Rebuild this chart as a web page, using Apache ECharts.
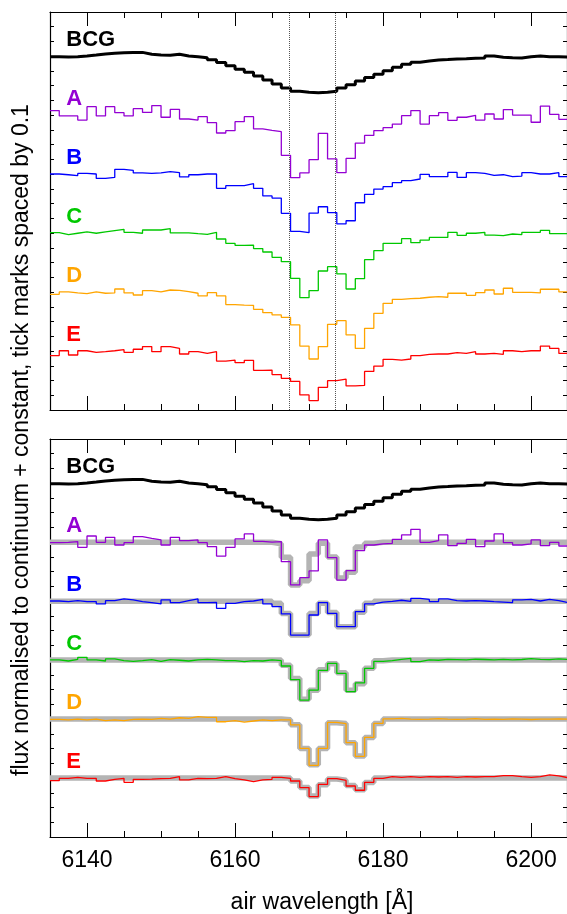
<!DOCTYPE html>
<html>
<head>
<meta charset="utf-8">
<script src="https://cdn.jsdelivr.net/npm/echarts@6/dist/echarts.min.js"></script>
<style>
html,body{margin:0;padding:0;background:#fff;}
#chart{width:567px;height:914px;}
</style>
</head>
<body>
<div id="chart"></div>
<script>
// ---- data ----
const binStart = 6135;      // first bin edge [Å]
const binWidth = 1.25;      // bin width [Å]
const xTicksMajor = [6140, 6160, 6180, 6200];
const xTicksMinor = [6135,6140,6145,6150,6155,6160,6165,6170,6175,6180,6185,6190,6195,6200];
const vLines = [6167.3, 6173.6];
const names = ['BCG', 'A', 'B', 'C', 'D', 'E'];
const offsets = [1.4, 1.0, 0.6, 0.2, -0.2, -0.6];
const colors = ['#000000', '#9400d3', '#0000ff', '#00c800', '#ffa500', '#ff0000'];

const bcg = [0.997,0.995,0.997,1.002,1.008,1.015,1.020,1.024,1.026,1.026,1.013,1.008,1.006,1.013,1.002,0.997,0.990,0.976,0.958,0.935,0.911,0.891,0.866,0.839,0.812,0.784,0.762,0.755,0.753,0.755,0.762,0.784,0.807,0.832,0.855,0.877,0.902,0.925,0.945,0.959,0.968,0.974,0.977,0.981,0.983,0.986,0.988,1.002,0.993,0.990,0.988,0.997,1.002,0.997,0.997,0.995];

const topA = [1.031,0.995,0.995,0.967,1.058,0.995,1.058,1.017,0.995,1.044,1.019,1.065,0.986,1.040,0.974,0.967,0.990,0.949,0.879,0.895,0.956,0.990,0.907,0.897,0.888,0.728,0.576,0.608,0.698,0.877,0.703,0.610,0.707,0.811,0.863,0.895,0.915,0.940,0.997,1.031,0.940,0.997,1.017,0.965,0.986,0.999,0.967,1.008,0.974,1.038,1.001,1.001,0.952,1.062,1.006,0.972];
const topB = [1.001,0.996,0.990,1.005,1.001,0.971,0.978,1.033,1.026,1.008,1.005,1.008,1.017,1.010,0.981,0.996,1.001,1.001,0.904,0.922,0.922,0.935,0.904,0.852,0.838,0.734,0.612,0.603,0.736,0.779,0.739,0.662,0.684,0.806,0.863,0.899,0.915,0.942,0.956,0.967,0.999,0.983,0.983,1.012,0.978,1.010,1.005,0.992,0.996,0.983,0.987,1.010,1.001,1.001,1.010,0.983];
const topC = [1.003,0.990,0.999,1.008,0.999,1.008,1.017,1.026,1.005,0.999,1.021,1.021,1.030,1.001,1.001,0.996,0.992,1.005,0.960,0.931,0.917,0.919,0.895,0.872,0.836,0.806,0.693,0.562,0.610,0.743,0.772,0.723,0.621,0.691,0.820,0.881,0.931,0.931,0.962,0.935,0.953,0.971,0.971,1.005,0.985,0.999,1.005,0.987,0.983,0.994,0.990,1.005,1.005,1.019,0.996,0.996];
const topD = [0.985,1.001,0.994,0.989,1.001,0.992,0.994,1.021,0.994,0.980,1.010,1.001,1.014,1.012,1.003,0.992,0.974,0.996,0.974,0.915,0.912,0.910,0.883,0.860,0.845,0.829,0.777,0.634,0.546,0.630,0.781,0.806,0.709,0.618,0.754,0.856,0.924,0.951,0.956,0.958,0.965,0.969,0.965,0.992,0.992,0.978,0.996,1.014,0.987,1.026,0.998,0.998,0.994,1.019,1.019,1.001];
const topE = [0.969,1.002,0.973,1.002,0.991,0.996,1.002,1.009,0.991,1.012,1.030,0.996,1.030,1.018,0.980,0.996,0.984,0.996,0.932,0.939,0.921,0.937,0.869,0.871,0.840,0.815,0.794,0.702,0.664,0.754,0.799,0.810,0.763,0.767,0.862,0.898,0.944,0.939,0.946,0.969,0.978,0.980,0.980,0.989,0.984,0.996,0.980,0.984,0.978,1.002,0.996,1.002,1.002,1.034,1.018,0.984];

const botA = [0.997,0.999,1.004,0.965,1.042,0.999,1.033,0.981,0.997,1.038,1.026,1.015,0.981,1.033,1.010,1.015,0.997,0.970,0.906,0.965,1.022,1.056,1.006,1.001,1.004,0.868,0.710,0.759,0.805,1.015,0.895,0.743,0.807,0.943,0.981,0.988,0.992,1.019,1.049,1.087,0.999,1.010,1.049,0.976,0.992,1.019,0.970,1.008,1.056,0.997,0.981,0.988,1.015,0.976,0.999,0.974];
const botB = [1.001,0.997,1.003,0.997,0.997,0.981,1.003,1.015,1.008,0.997,0.990,0.981,1.008,0.990,1.003,1.015,0.990,0.992,0.951,0.985,0.997,1.001,1.012,0.981,0.963,0.913,0.770,0.770,0.906,0.990,0.917,0.827,0.827,0.929,0.981,0.994,0.999,1.006,0.999,1.019,1.012,0.997,1.015,1.003,1.001,1.003,1.001,0.997,0.994,0.990,1.008,1.012,1.001,1.012,1.003,0.990];
const botC = [1.001,0.994,1.005,1.019,1.001,0.994,1.008,0.996,0.992,0.996,1.003,0.992,1.003,0.999,0.994,1.001,1.005,1.001,0.996,0.996,0.990,0.996,0.994,1.001,0.996,0.960,0.867,0.729,0.797,0.931,0.978,0.910,0.786,0.845,0.944,0.992,0.996,1.005,1.012,0.990,1.001,0.999,1.005,1.003,1.001,1.006,1.004,1.002,1.005,1.001,1.004,1.010,1.005,1.003,1.008,1.005];
const botD = [0.998,0.994,1.000,0.994,1.000,0.989,0.994,0.989,0.998,1.000,0.998,1.005,1.000,1.009,1.005,1.016,1.012,1.012,0.982,0.989,0.980,0.987,0.994,0.989,0.994,0.994,0.960,0.801,0.686,0.801,0.978,0.969,0.840,0.747,0.876,0.971,1.002,1.005,1.000,0.998,1.000,1.003,1.000,0.998,1.000,1.003,0.998,1.000,0.998,1.002,1.000,0.997,1.000,1.000,1.001,1.000];
const botE = [0.982,0.998,1.005,0.998,0.998,0.980,0.991,0.998,0.971,0.991,0.993,0.996,0.998,1.009,0.987,0.998,0.996,0.998,1.009,0.996,0.987,0.975,0.987,0.991,1.005,0.998,0.980,0.935,0.874,0.957,0.996,0.984,0.946,0.917,0.971,0.998,1.009,1.005,1.009,1.005,1.009,1.007,1.009,1.005,1.009,1.007,1.009,1.009,1.016,1.016,1.009,1.005,1.009,1.021,1.014,1.002];

const modA = [1,1,1,1,1,1,1,1,1,1,1,1,1,1,1,1,1,1,1,1,1,1,1,1,0.990,0.897,0.710,0.739,0.920,0.993,0.899,0.757,0.796,0.967,0.993,1,1,1,1,1,1,1,1,1,1,1,1,1,1,1,1,1,1,1,1,1];
const modB = [1,1,1,1,1,1,1,1,1,1,1,1,1,1,1,1,1,1,1,1,1,1,1,1,0.985,0.917,0.770,0.770,0.917,0.985,0.923,0.827,0.827,0.925,0.985,1,1,1,1,1,1,1,1,1,1,1,1,1,1,1,1,1,1,1,1,1];
const modC = [1,1,1,1,1,1,1,1,1,1,1,1,1,1,1,1,1,1,1,1,1,1,1,1,1,0.965,0.875,0.735,0.795,0.935,0.975,0.915,0.795,0.840,0.945,0.995,1,1,1,1,1,1,1,1,1,1,1,1,1,1,1,1,1,1,1,1];
const modD = [1,1,1,1,1,1,1,1,1,1,1,1,1,1,1,1,1,1,1,1,1,1,1,1,1,0.995,0.962,0.800,0.690,0.800,0.975,0.970,0.840,0.750,0.875,0.970,1,1,1,1,1,1,1,1,1,1,1,1,1,1,1,1,1,1,1,1];
const modE = [1,1,1,1,1,1,1,1,1,1,1,1,1,1,1,1,1,1,1,1,1,1,1,1,1,1,0.980,0.935,0.878,0.955,0.993,0.985,0.950,0.920,0.970,1,1,1,1,1,1,1,1,1,1,1,1,1,1,1,1,1,1,1,1,1];

const topSpectra = [bcg, topA, topB, topC, topD, topE];
const botSpectra = [bcg, botA, botB, botC, botD, botE];
const models = [null, modA, modB, modC, modD, modE];

const xMin = 6135, xMax = 6204.85;
const labelLift = 0.11;
const labelX = 6137.2;

// ---- build ----
function stepData(vals, off) {
  const out = [];
  for (let i = 0; i <= vals.length; i++) {
    const v = vals[Math.min(i, vals.length - 1)];
    out.push([binStart + i * binWidth, +(v + off).toFixed(4)]);
  }
  return out;
}

const FONT = '"Liberation Sans", Arial, Helvetica, sans-serif';
const grids = [
  {left: 50, top: 12, width: 518, height: 398},
  {left: 50, top: 439, width: 518, height: 398}
];
const xAxes = [], yAxes = [], series = [];

grids.forEach((g, gi) => {
  const base = xAxes.length;
  ['bottom', 'top'].forEach(pos => {
    xAxes.push({
      gridIndex: gi, type: 'value', min: xMin, max: xMax, position: pos,
      axisLine: {show: true, onZero: false, lineStyle: {color: '#000', width: 1.2}},
      axisTick: {show: true, inside: true, length: 6, customValues: xTicksMinor, lineStyle: {color: '#000', width: 1}},
      axisLabel: {show: false}, splitLine: {show: false}
    });
  });
  ['bottom', 'top'].forEach(pos => {
    const showLab = (gi === 1 && pos === 'bottom');
    xAxes.push({
      gridIndex: gi, type: 'value', min: xMin, max: xMax, position: pos,
      axisLine: {show: false, onZero: false},
      axisTick: {show: true, inside: true, length: 14, customValues: xTicksMajor, lineStyle: {color: '#000', width: 1}},
      axisLabel: {show: showLab, customValues: xTicksMajor, fontSize: 23, color: '#000', fontFamily: FONT, margin: 12,
        formatter: v => String(Math.round(v))},
      splitLine: {show: false}
    });
  });
  const ybase = yAxes.length;
  ['left', 'right'].forEach(pos => {
    yAxes.push({
      gridIndex: gi, type: 'value', min: 0, max: 2.7, interval: 0.1, position: pos,
      axisLine: {show: true, onZero: false, lineStyle: {color: '#000', width: 1.2}},
      axisTick: {show: true, inside: true, length: 4, lineStyle: {color: '#000', width: 1}},
      axisLabel: {show: false}, splitLine: {show: false}
    });
  });

  const spectra = gi === 0 ? topSpectra : botSpectra;
  if (gi === 1) {
    models.forEach((m, k) => {
      if (!m) return;
      series.push({
        type: 'line', xAxisIndex: base, yAxisIndex: ybase, step: 'end',
        data: stepData(m, offsets[k]), symbol: 'none', z: 1,
        lineStyle: {color: '#b4b4b4', width: 5.5}, animation: false, silent: true
      });
    });
  }
  spectra.forEach((s, k) => {
    const ser = {
      type: 'line', xAxisIndex: base, yAxisIndex: ybase, step: 'end',
      data: stepData(s, offsets[k]), symbol: 'none', z: k === 0 ? 4 : 3,
      lineStyle: {color: colors[k], width: k === 0 ? 3 : 1.3}, animation: false, silent: true
    };
    if (gi === 0 && k === 0) {
      ser.markLine = {
        silent: true, symbol: 'none', animation: false,
        label: {show: false},
        lineStyle: {color: '#555', type: 'dotted', width: 1},
        data: vLines.map(v => ({xAxis: v}))
      };
    }
    series.push(ser);
  });
  series.push({
    type: 'scatter', xAxisIndex: base, yAxisIndex: ybase, symbolSize: 0, z: 5,
    animation: false, silent: true, itemStyle: {opacity: 1},
    data: names.map((n, k) => ({
      name: n, value: [labelX, offsets[k] + 1 + labelLift],
      itemStyle: {opacity: 1},
      label: {show: true, position: 'right', distance: 0, formatter: n, opacity: 1,
        color: colors[k], fontSize: 22, fontWeight: 'bold', fontFamily: FONT}
    }))
  });
});

const chart = echarts.init(document.getElementById('chart'), null, {renderer: 'canvas'});
chart.setOption({
  backgroundColor: '#fff',
  animation: false,
  grid: grids,
  xAxis: xAxes,
  yAxis: yAxes,
  series: series,
  graphic: [
    {type: 'text', x: 22, y: 440, rotation: Math.PI / 2,
      style: {text: 'flux normalised to continuum + constant, tick marks spaced by 0.1',
        fontSize: 23, fontFamily: FONT, fill: '#000', align: 'center', verticalAlign: 'middle'}},
    {type: 'text', x: 322, y: 903,
      style: {text: 'air wavelength [Å]', fontSize: 23, fontFamily: FONT, fill: '#000',
        align: 'center', verticalAlign: 'middle'}}
  ]
});
</script>
</body>
</html>
